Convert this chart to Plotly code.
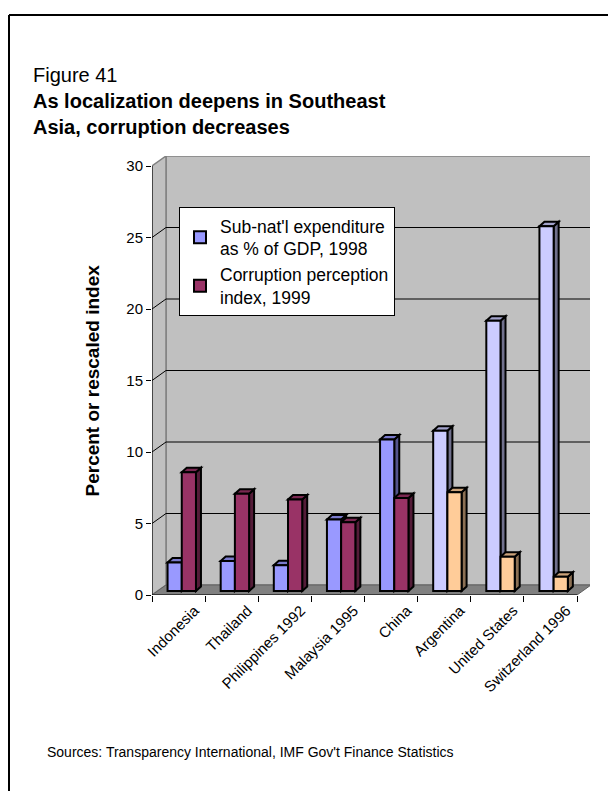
import plotly.graph_objects as go

# ---------------- data ----------------
categories = ["Indonesia", "Thailand", "Philippines 1992", "Malaysia 1995",
              "China", "Argentina", "United States", "Switzerland 1996"]
subnat_exp = [2.0, 2.1, 1.8, 5.0, 10.6, 11.2, 18.9, 25.5]
corruption = [8.3, 6.8, 6.4, 4.8, 6.5, 6.9, 2.4, 1.0]
y_ticks = [0, 5, 10, 15, 20, 25, 30]
series_names = ["Sub-nat'l expenditure<br>as % of GDP, 1998",
                "Corruption perception<br>index, 1999"]

# ---------------- styles ----------------
blue_cols = ["#9999FF"] * 5 + ["#CCCCFF"] * 3
red_cols = ["#993366"] * 5 + ["#FFCC99"] * 3

W, H = 616, 791
SH = 8                                    # page body margin compensation
L, R, T, B = 152 - SH, 590 - SH, 156 - SH, 595 - SH   # plot area in px
n = len(categories)
ymax = y_ticks[-1]
front_w = 425.0                          # px width of the front x axis
front_h = 429.0                          # px height of front y axis (0..30)
ppx = front_w / n                        # px per category unit
ppy = front_h / ymax                     # px per value unit
xr = [-0.5, -0.5 + (R - L) / ppx]
yr = [0, (B - T) / ppy]

DX, DY = 14 / ppx, 10 / ppy              # wall depth
BDX, BDY = 5 / ppx, 4.5 / ppy            # bar depth
BASE = 4 / ppy                           # bars stand a bit back on the floor
BW = 14.2 / ppx                          # bar width
OFF_A = -11 / ppx                        # offset of first bar from category centre
OFF_B = OFF_A + BW


def shade(hexcol, f):
    h = hexcol.lstrip("#")
    r, g, b = (int(h[i:i + 2], 16) for i in (0, 2, 4))
    return "#%02X%02X%02X" % (int(r * f), int(g * f), int(b * f))


def poly(pts):
    return "M " + " L ".join(f"{x},{y}" for x, y in pts) + " Z"


def pxx(p):
    return (p - L) / (R - L)


def pxy(p):
    return (B - p) / (B - T)


xe = n - 0.5
shapes = []
# back wall
shapes.append(dict(type="rect", xref="x", yref="y", layer="below",
                   x0=-0.5 + DX, x1=xe + DX, y0=DY, y1=ymax + DY,
                   fillcolor="#C0C0C0", line=dict(color="#808080", width=1.5)))
# left wall
shapes.append(dict(type="path", xref="x", yref="y", layer="below",
                   path=poly([(-0.5, 0), (-0.5, ymax), (-0.5 + DX, ymax + DY), (-0.5 + DX, DY)]),
                   fillcolor="#C0C0C0", line=dict(color="#808080", width=1.5)))
# floor
shapes.append(dict(type="path", xref="x", yref="y", layer="below",
                   path=poly([(-0.5, 0), (xe, 0), (xe + DX, DY), (-0.5 + DX, DY)]),
                   fillcolor="#808080", line=dict(color="#606060", width=1)))
# gridlines (left wall + back wall)
for v in y_ticks[1:-1]:
    shapes.append(dict(type="path", xref="x", yref="y", layer="below",
                       path=f"M {-0.5},{v} L {-0.5 + DX},{v + DY} L {xe + DX},{v + DY}",
                       line=dict(color="black", width=1)))
# axis lines
shapes.append(dict(type="line", xref="x", yref="y", layer="below",
                   x0=-0.5, x1=-0.5, y0=0, y1=ymax, line=dict(color="black", width=1)))
shapes.append(dict(type="line", xref="x", yref="y", layer="below",
                   x0=-0.5, x1=xe, y0=0, y1=0, line=dict(color="black", width=1)))

# 3-D faces of the bars (side + top), drawn beneath the bar fronts
for i in range(n):
    for off, vals, cols in ((OFF_A, subnat_exp, blue_cols), (OFF_B, corruption, red_cols)):
        xl = i + off
        xrr = xl + BW
        top = BASE + vals[i]
        shapes.append(dict(type="path", xref="x", yref="y", layer="below",
                           path=poly([(xrr, BASE), (xrr, top), (xrr + BDX, top + BDY), (xrr + BDX, BASE + BDY)]),
                           fillcolor=shade(cols[i], 0.55), line=dict(color="black", width=2)))
        shapes.append(dict(type="path", xref="x", yref="y", layer="below",
                           path=poly([(xl, top), (xrr, top), (xrr + BDX, top + BDY), (xl + BDX, top + BDY)]),
                           fillcolor=shade(cols[i], 0.8), line=dict(color="black", width=2)))

# frame lines (top and left)
shapes.append(dict(type="line", xref="paper", yref="paper", x0=pxx(1), x1=pxx(616),
                   y0=pxy(7), y1=pxy(7), line=dict(color="black", width=2)))
shapes.append(dict(type="line", xref="paper", yref="paper", x0=pxx(1), x1=pxx(1),
                   y0=pxy(7), y1=pxy(791), line=dict(color="black", width=2)))

xs = list(range(n))
fig = go.Figure()
fig.add_trace(go.Bar(x=xs, y=subnat_exp, base=BASE, width=BW, offset=OFF_A,
                     name=series_names[0],
                     marker=dict(color=blue_cols, line=dict(color="black", width=2))))
fig.add_trace(go.Bar(x=xs, y=corruption, base=BASE, width=BW, offset=OFF_B,
                     name=series_names[1],
                     marker=dict(color=red_cols, line=dict(color="black", width=2))))

FONT = "Arial, Liberation Sans, sans-serif"
fig.update_layout(
    width=W, height=H,
    margin=dict(l=L, r=W - R, t=T, b=H - B, pad=0),
    paper_bgcolor="white", plot_bgcolor="white",
    font=dict(family=FONT, color="black", size=14),
    barmode="overlay",
    showlegend=True,
    shapes=shapes,
    title=dict(text="Figure 41<br><b>As localization deepens in Southeast<br>Asia, corruption decreases</b>",
               x=25 / W, xanchor="left", xref="container",
               y=1 - 74 / H, yanchor="top", yref="container",
               font=dict(size=20, family=FONT, color="black")),
    legend=dict(x=pxx(171), y=pxy(199), xanchor="left", yanchor="top",
                bgcolor="white", bordercolor="black", borderwidth=1,
                font=dict(size=17.5, family=FONT, color="black"),
                tracegroupgap=0),
    xaxis=dict(range=xr, tickmode="array", tickvals=xs, ticktext=categories,
               ticks="", tickangle=-45, showgrid=False, zeroline=False, showline=False,
               tickfont=dict(size=15), ticklabelshift=16, ticklabelstandoff=3,
               minor=dict(tickmode="array", tickvals=[i - 0.5 for i in range(n + 1)],
                          ticks="outside", ticklen=6, tickcolor="black", tickwidth=1,
                          showgrid=False)),
    yaxis=dict(range=yr, tickmode="array", tickvals=y_ticks, ticks="outside",
               ticklen=5, tickcolor="black", showgrid=False, zeroline=False, showline=False,
               tickfont=dict(size=15)),
    annotations=[
        dict(text="<b>Percent or rescaled index</b>", textangle=-90,
             xref="paper", yref="y", x=pxx(92 - SH), y=ymax / 2,
             xanchor="center", yanchor="middle", showarrow=False,
             font=dict(size=19)),
        dict(text="Sources: Transparency International, IMF Gov't Finance Statistics",
             xref="paper", yref="paper", x=pxx(37), y=pxy(744),
             xanchor="left", yanchor="middle", showarrow=False,
             font=dict(size=14))],
)

fig.write_html("out.html")
